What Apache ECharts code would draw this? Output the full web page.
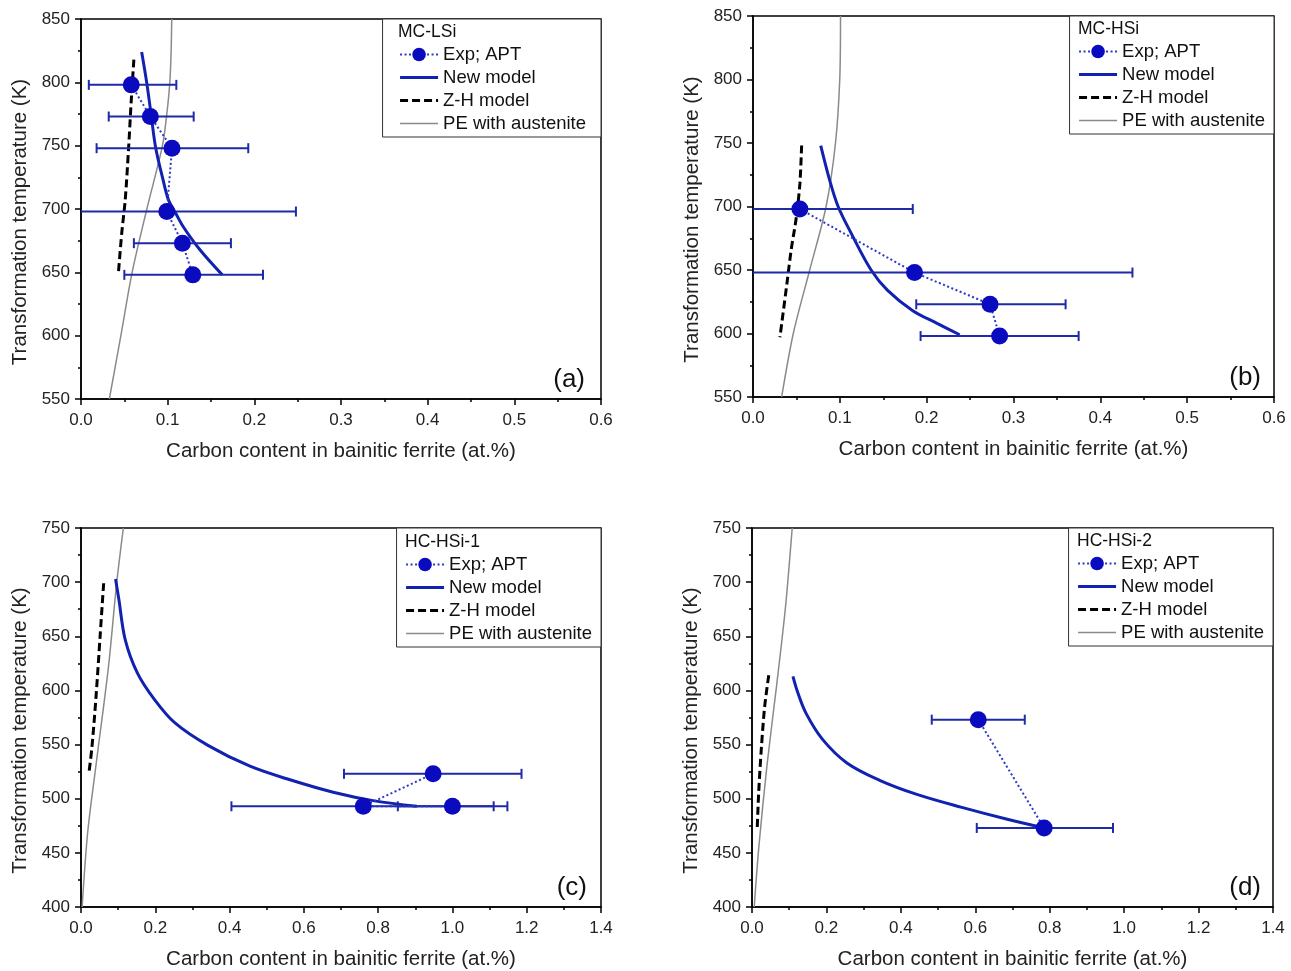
<!DOCTYPE html>
<html><head><meta charset="utf-8">
<script src="https://cdn.jsdelivr.net/npm/echarts@6/dist/echarts.min.js"></script>
<style>html,body{margin:0;padding:0;background:#fff}#c{width:1291px;height:971px}</style>
</head><body><div id="c"></div>
<script>
// ---------- Panel (a) MC-LSi ----------
const aExpC = [0.058, 0.080, 0.105, 0.099, 0.117, 0.129];
const aExpT = [798, 773, 748, 698, 673, 648];
const aLow  = [0.009, 0.032, 0.018, -0.050, 0.061, 0.050];
const aHigh = [0.110, 0.130, 0.193, 0.248, 0.173, 0.210];
const aNewC = [0.070, 0.076, 0.081, 0.086, 0.094, 0.101, 0.109, 0.118, 0.137, 0.163];
const aNewT = [824, 799, 774, 749, 725, 707, 697, 686, 668, 648];
const aZHC  = [0.061, 0.058, 0.055, 0.051, 0.047, 0.043];
const aZHT  = [818, 786, 749, 707, 681, 648];
const aPEC  = [0.0327, 0.046, 0.059, 0.076, 0.094, 0.099, 0.1025, 0.104, 0.1047];
const aPET  = [550, 600, 650, 700, 750, 775, 800, 825, 850];
// ---------- Panel (b) MC-HSi ----------
const bExpC = [0.054, 0.186, 0.273, 0.284];
const bExpT = [698, 648, 623, 598];
const bLow  = [-0.076, -0.065, 0.188, 0.193];
const bHigh = [0.184, 0.437, 0.360, 0.375];
const bNewC = [0.078, 0.089, 0.098, 0.113, 0.136, 0.155, 0.184, 0.212, 0.238];
const bNewT = [748, 719, 700, 679, 650, 634, 618, 608, 599];
const bZHC  = [0.056, 0.054, 0.050, 0.044, 0.039, 0.031];
const bZHT  = [748, 718, 692, 666, 639, 597];
const bPEC  = [0.033, 0.0464, 0.0653, 0.0842, 0.095, 0.0999, 0.1008];
const bPET  = [550, 600, 650, 700, 750, 800, 850];
// ---------- Panel (c) HC-HSi-1 ----------
const cExpC = [0.948, 0.760, 1.000];
const cExpT = [523, 493, 493];
const cLow  = [0.708, 0.405, 0.853];
const cHigh = [1.186, 1.111, 1.148];
const cNewC = [0.093, 0.102, 0.119, 0.152, 0.197, 0.253, 0.343, 0.455, 0.567, 0.679, 0.790, 0.904];
const cNewT = [703, 684, 647, 616, 592, 570, 549, 530, 517, 506, 498, 493];
const cZHC  = [0.061, 0.052, 0.040, 0.029, 0.021];
const cZHT  = [699, 653, 592, 546, 523];
const cPEC  = [0.003, 0.018, 0.040, 0.074, 0.096, 0.114];
const cPET  = [400, 469, 530, 622, 699, 750];
// ---------- Panel (d) HC-HSi-2 ----------
const dExpC = [0.608, 0.785];
const dExpT = [573, 473];
const dLow  = [0.483, 0.604];
const dHigh = [0.733, 0.970];
const dNewC = [0.110, 0.123, 0.145, 0.189, 0.255, 0.343, 0.443, 0.564, 0.686, 0.785];
const dNewT = [613, 598, 579, 555, 533, 517, 504, 492, 481, 473];
const dZHC  = [0.045, 0.034, 0.025, 0.018, 0.014];
const dZHT  = [614, 585, 546, 506, 472];
const dPEC  = [0.006, 0.018, 0.040, 0.067, 0.090, 0.108];
const dPET  = [400, 454, 530, 607, 677, 750];

const legendNames = ['Exp; APT', 'New model', 'Z-H model', 'PE with austenite'];
const panelTitles = ['MC-LSi', 'MC-HSi', 'HC-HSi-1', 'HC-HSi-2'];
const panelLabels = ['(a)', '(b)', '(c)', '(d)'];
const xTitle = 'Carbon content in bainitic ferrite (at.%)';
const yTitle = 'Transformation temperature (K)';

const FONT = '"Liberation Sans", Arial, sans-serif';
const BLUE = '#0a0abf', BAR = '#1f2aa8', LINEB = '#1222b0';

const zip = (xs, ys) => xs.map((x, i) => [x, ys[i]]);
const zip3 = (lo, ys, hi) => lo.map((l, i) => [l, ys[i], hi[i]]);

const panels = [
  {exp: zip(aExpC, aExpT), err: zip3(aLow, aExpT, aHigh), nw: zip(aNewC, aNewT), zh: zip(aZHC, aZHT), pe: zip(aPEC, aPET),
   xMax: 0.6, xInt: 0.1, yMin: 550, yMax: 850,
   grid: {left: 81, top: 19, width: 520, height: 380},
   legend: {right: 690, top: 19, padding: [26, 15, 4, 16]},
   tPos: [398, 32], lPos: [585, 380]},
  {exp: zip(bExpC, bExpT), err: zip3(bLow, bExpT, bHigh), nw: zip(bNewC, bNewT), zh: zip(bZHC, bZHT), pe: zip(bPEC, bPET),
   xMax: 0.6, xInt: 0.1, yMin: 550, yMax: 850,
   grid: {left: 753, top: 16, width: 521, height: 381},
   legend: {right: 17, top: 16, padding: [26, 9, 4, 8]},
   tPos: [1078, 29], lPos: [1261, 378]},
  {exp: zip(cExpC, cExpT), err: zip3(cLow, cExpT, cHigh), nw: zip(cNewC, cNewT), zh: zip(cZHC, cZHT), pe: zip(cPEC, cPET),
   xMax: 1.4, xInt: 0.2, yMin: 400, yMax: 750,
   grid: {left: 81, top: 528, width: 520, height: 380},
   legend: {right: 690, top: 528, padding: [27, 9, 4, 8]},
   tPos: [405, 542], lPos: [587, 888]},
  {exp: zip(dExpC, dExpT), err: zip3(dLow, dExpT, dHigh), nw: zip(dNewC, dNewT), zh: zip(dZHC, dZHT), pe: zip(dPEC, dPET),
   xMax: 1.4, xInt: 0.2, yMin: 400, yMax: 750,
   grid: {left: 752, top: 528, width: 521, height: 380},
   legend: {right: 18, top: 528, padding: [26, 9, 4, 8]},
   tPos: [1077, 541], lPos: [1261, 888]}
];

const grids = [], xAxes = [], yAxes = [], series = [], legends = [], graphics = [];

function errorBarRender(params, api) {
  const lo = api.value(0), t = api.value(1), hi = api.value(2);
  const p1 = api.coord([lo, t]);
  const p2 = api.coord([hi, t]);
  const h = 5;
  const st = {stroke: BAR, lineWidth: 2};
  return {
    type: 'group',
    children: [
      {type: 'line', shape: {x1: p1[0], y1: p1[1], x2: p2[0], y2: p2[1]}, style: st},
      {type: 'line', shape: {x1: p1[0], y1: p1[1] - h, x2: p1[0], y2: p1[1] + h}, style: st},
      {type: 'line', shape: {x1: p2[0], y1: p2[1] - h, x2: p2[0], y2: p2[1] + h}, style: st}
    ]
  };
}

const legendData = legendNames.map((n, k) => k === 0 ? {name: n} :
  {name: n, itemStyle: {opacity: 0, color: 'transparent', borderWidth: 0}});

panels.forEach((p, i) => {
  grids.push(Object.assign({show: true, borderColor: '#000', borderWidth: 1.5, backgroundColor: 'transparent'}, p.grid));
  xAxes.push({
    type: 'value', gridIndex: i, min: 0, max: p.xMax, interval: p.xInt,
    name: xTitle, nameLocation: 'middle', nameGap: 42,
    nameTextStyle: {fontFamily: FONT, fontSize: 20.5, color: '#222'},
    axisLine: {show: true, onZero: false, lineStyle: {color: '#000', width: 1.5}},
    axisTick: {show: true, inside: false, length: 6, lineStyle: {color: '#000', width: 1.5}},
    minorTick: {show: true, splitNumber: 2, length: 3, lineStyle: {color: '#000', width: 1.5}},
    splitLine: {show: false},
    axisLabel: {fontFamily: FONT, fontSize: 17, color: '#222', margin: 13,
      formatter: v => v.toFixed(1)}
  });
  yAxes.push({
    type: 'value', gridIndex: i, min: p.yMin, max: p.yMax, interval: 50,
    name: yTitle, nameLocation: 'middle', nameGap: 50,
    nameTextStyle: {fontFamily: FONT, fontSize: 20.5, color: '#222', padding: [0, 26, 0, 0]},
    axisLine: {show: true, onZero: false, lineStyle: {color: '#000', width: 1.5}},
    axisTick: {show: true, inside: false, length: 6, lineStyle: {color: '#000', width: 1.5}},
    minorTick: {show: true, splitNumber: 2, length: 3, lineStyle: {color: '#000', width: 1.5}},
    splitLine: {show: false},
    axisLabel: {fontFamily: FONT, fontSize: 17, color: '#222', margin: 11}
  });
  series.push({
    name: 'PE with austenite', type: 'line', xAxisIndex: i, yAxisIndex: i,
    data: p.pe, symbol: 'none', smooth: 0.3, z: 2,
    lineStyle: {color: '#8a8a8a', width: 1.5}, itemStyle: {color: '#8a8a8a'}
  });
  series.push({
    name: 'Z-H model', type: 'line', xAxisIndex: i, yAxisIndex: i,
    data: p.zh, symbol: 'none', smooth: 0.3, z: 3,
    lineStyle: {color: '#000', width: 3, type: [8, 4]}, itemStyle: {color: '#000'}
  });
  series.push({
    name: 'New model', type: 'line', xAxisIndex: i, yAxisIndex: i,
    data: p.nw, symbol: 'none', smooth: 0.35, z: 4,
    lineStyle: {color: LINEB, width: 3}, itemStyle: {color: LINEB}
  });
  series.push({
    name: 'errbar', type: 'custom', xAxisIndex: i, yAxisIndex: i,
    data: p.err, renderItem: errorBarRender, clip: true, z: 5,
    encode: {x: [0, 2], y: 1}, silent: true
  });
  series.push({
    name: 'Exp; APT', type: 'line', xAxisIndex: i, yAxisIndex: i,
    data: p.exp, symbol: 'circle', symbolSize: 17, showSymbol: true, z: 6,
    lineStyle: {color: '#2a3ac4', width: 2, type: [2, 2.5]},
    itemStyle: {color: BLUE}
  });
  legends.push(Object.assign({
    orient: 'vertical', data: legendData, itemWidth: 38, itemHeight: 17, itemGap: 4,
    borderColor: '#333', borderWidth: 1, backgroundColor: '#fff', selectedMode: false,
    lineStyle: {width: 'inherit'},
    textStyle: {fontFamily: FONT, fontSize: 18.5, color: '#111', lineHeight: 18}
  }, p.legend));
  graphics.push({type: 'text', x: p.tPos[0], y: p.tPos[1], z: 100,
    style: {text: panelTitles[i], fontFamily: FONT, fontSize: 17.5, fill: '#111', textVerticalAlign: 'middle', textAlign: 'left'}});
  graphics.push({type: 'text', x: p.lPos[0], y: p.lPos[1], z: 100,
    style: {text: panelLabels[i], fontFamily: FONT, fontSize: 26, fill: '#111', textVerticalAlign: 'middle', textAlign: 'right'}});
});

const chart = echarts.init(document.getElementById('c'));
chart.setOption({
  animation: false,
  backgroundColor: '#fff',
  grid: grids, xAxis: xAxes, yAxis: yAxes, series: series, legend: legends,
  graphic: graphics
});
</script></body></html>
